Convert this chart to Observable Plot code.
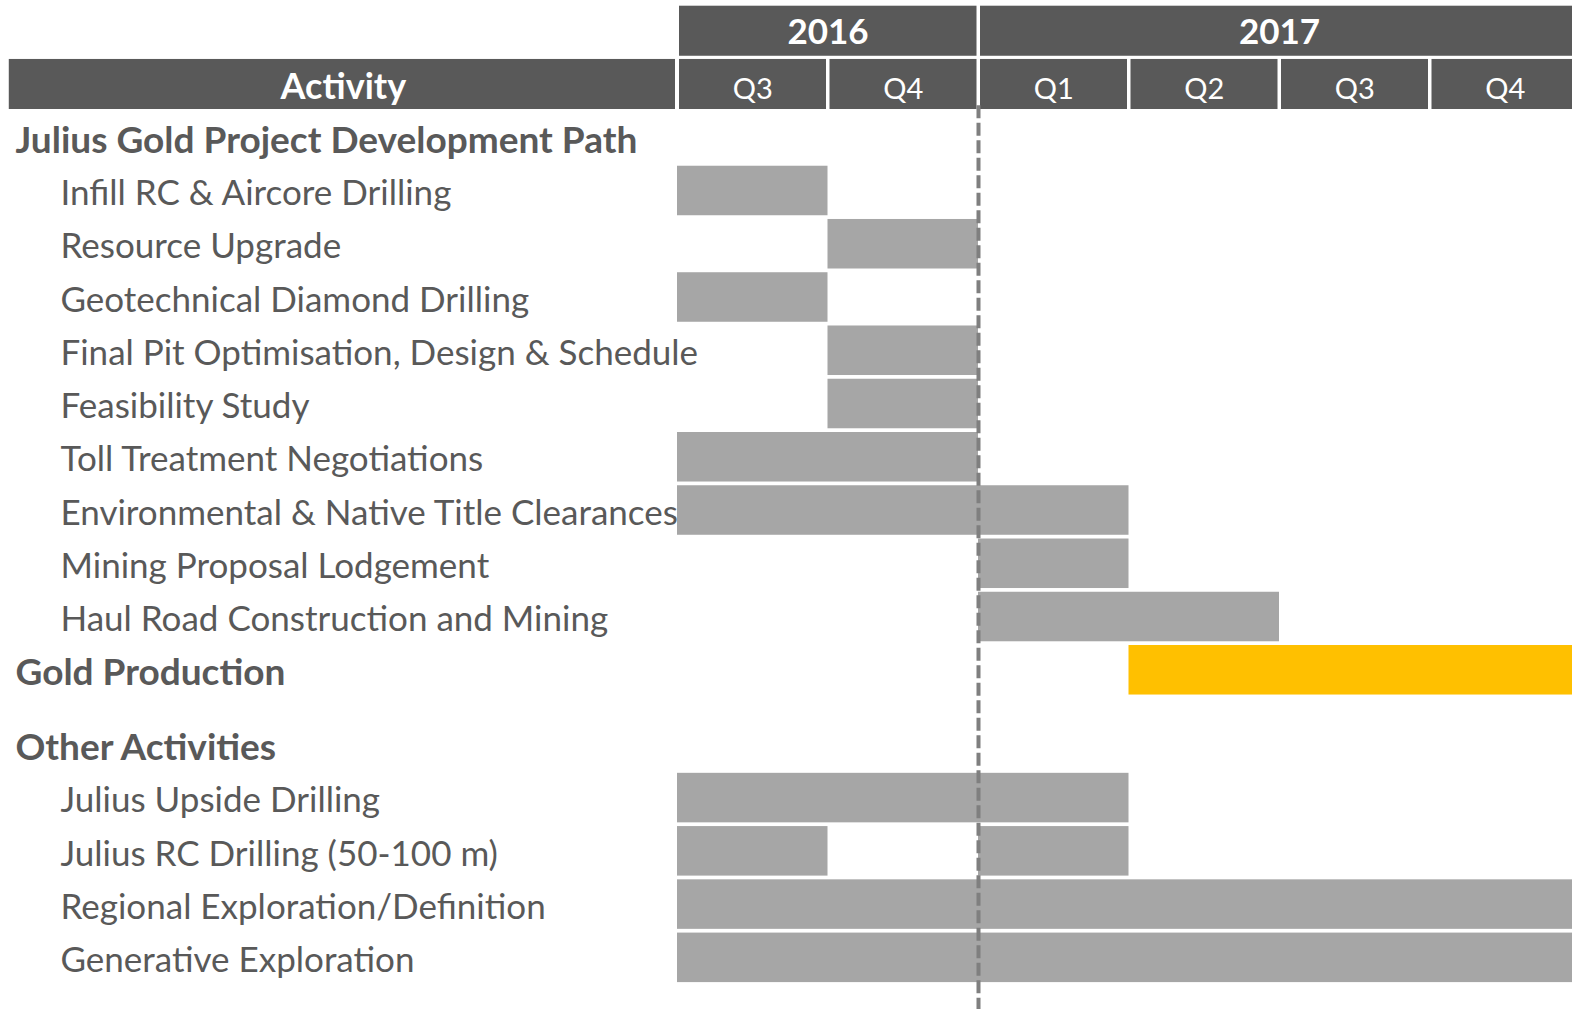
<!DOCTYPE html>
<html><head><meta charset="utf-8">
<script src="https://cdn.jsdelivr.net/npm/d3@7"></script>
<script src="https://cdn.jsdelivr.net/npm/@observablehq/plot@0.6"></script>
<style>html,body{margin:0;padding:0;background:#fff;overflow:hidden}</style>
</head><body><div id="chart"></div>
<script>
// ---- data ----
const years = ["2016", "2017"];
const yearStartQ = [0, 2];
const yearEndQ = [2, 6];
const quarters = ["Q3", "Q4", "Q1", "Q2", "Q3", "Q4"];
const headerLabel = "Activity";

const sectionA = "Julius Gold Project Development Path";
const tasksA = [
  "Infill RC & Aircore Drilling",
  "Resource Upgrade",
  "Geotechnical Diamond Drilling",
  "Final Pit Optimisation, Design & Schedule",
  "Feasibility Study",
  "Toll Treatment Negotiations",
  "Environmental & Native Title Clearances",
  "Mining Proposal Lodgement",
  "Haul Road Construction and Mining"
];
const milestone = "Gold Production";
const sectionB = "Other Activities";
const tasksB = [
  "Julius Upside Drilling",
  "Julius RC Drilling (50-100 m)",
  "Regional Exploration/Definition",
  "Generative Exploration"
];

// bars: quarter index, 0 = Q3 2016
const barTask = [
  "Infill RC & Aircore Drilling",
  "Resource Upgrade",
  "Geotechnical Diamond Drilling",
  "Final Pit Optimisation, Design & Schedule",
  "Feasibility Study",
  "Toll Treatment Negotiations",
  "Environmental & Native Title Clearances",
  "Mining Proposal Lodgement",
  "Haul Road Construction and Mining",
  "Gold Production",
  "Julius Upside Drilling",
  "Julius RC Drilling (50-100 m)",
  "Julius RC Drilling (50-100 m)",
  "Regional Exploration/Definition",
  "Generative Exploration"
];
const barStart = [0, 1, 0, 1, 1, 0, 0, 2, 2, 3, 0, 0, 2, 0, 0];
const barEnd   = [1, 2, 1, 2, 2, 2, 3, 3, 4, 6, 3, 1, 3, 6, 6];
const highlightTask = "Gold Production";
const todayQ = 2;

// ---- layout (row units) ----
const sectionGap = 0.4;
const rows = [];
rows.push({label: sectionA, section: true, pos: 0});
tasksA.forEach((t, i) => rows.push({label: t, section: false, pos: i + 1}));
rows.push({label: milestone, section: true, pos: tasksA.length + 1});
rows.push({label: sectionB, section: true, pos: tasksA.length + 2 + sectionGap});
tasksB.forEach((t, i) => rows.push({label: t, section: false, pos: tasksA.length + 3 + sectionGap + i}));
const posOf = new Map(rows.map(r => [r.label, r.pos]));

const bars = barTask.map((t, i) => ({task: t, pos: posOf.get(t), start: barStart[i], end: barEnd[i]}));
const yearCells = years.map((y, i) => ({label: y, x1: yearStartQ[i], x2: yearEndQ[i]}));
const quarterCells = quarters.map((q, i) => ({label: q, x1: i, x2: i + 1}));
const activityLeft = -4.44;

const W = 1572, H = 1009;
const half = 0.47;
const barHalf = 0.465;
const dark = "#595959", textCol = "#595959";
const font = "Lato, sans-serif";

const chart = Plot.plot({
  width: W, height: H, margin: 0,
  x: {type: "linear", domain: [0, 6], range: [677, 1580], axis: null},
  y: {type: "linear", domain: [-2.577, 16.37], range: [0, H], axis: null},
  style: {fontFamily: font, background: "white", overflow: "hidden"},
  marks: [
    // header rows
    Plot.rect(yearCells, {x1: "x1", x2: "x2", y1: -2 - half, y2: -2 + half, fill: dark, insetLeft: 2, insetRight: 1.5}),
    Plot.text(yearCells, {x: d => (d.x1 + d.x2) / 2, y: -2, text: "label", fill: "white", fontWeight: "bold", fontSize: 35, dy: 2}),
    Plot.rect(quarterCells, {x1: "x1", x2: "x2", y1: -1 - half, y2: -1 + half, fill: dark, insetLeft: 2, insetRight: 1.5}),
    Plot.text(quarterCells, {x: d => (d.x1 + d.x2) / 2, y: -1, text: "label", fill: "white", fontSize: 29, dy: 5}),
    Plot.rect([headerLabel], {x1: activityLeft, x2: 0, y1: -1 - half, y2: -1 + half, fill: dark, insetRight: 2}),
    Plot.text([headerLabel], {x: activityLeft / 2, y: -1, text: d => d, fill: "white", fontWeight: "bold", fontSize: 36, dy: 3}),
    // bars
    Plot.rect(bars, {x1: "start", x2: "end", y1: d => d.pos - barHalf, y2: d => d.pos + barHalf,
      fill: d => d.task === highlightTask ? "#FFC000" : "#A6A6A6"}),
    // today line
    Plot.ruleX([todayQ], {y1: -0.6, y2: 16.37, stroke: "#7F7F7F", strokeWidth: 4, strokeDasharray: "13,4.5"}),
    // labels
    Plot.text(rows.filter(r => r.section), {y: "pos", text: "label", frameAnchor: "left", textAnchor: "start", dx: 15, dy: 3,
      fill: textCol, fontWeight: "bold", fontSize: 37}),
    Plot.text(rows.filter(r => !r.section), {y: "pos", text: "label", frameAnchor: "left", textAnchor: "start", dx: 60, dy: 3,
      fill: textCol, fontSize: 35})
  ]
});
document.getElementById("chart").appendChild(chart);
</script>
</body></html>
